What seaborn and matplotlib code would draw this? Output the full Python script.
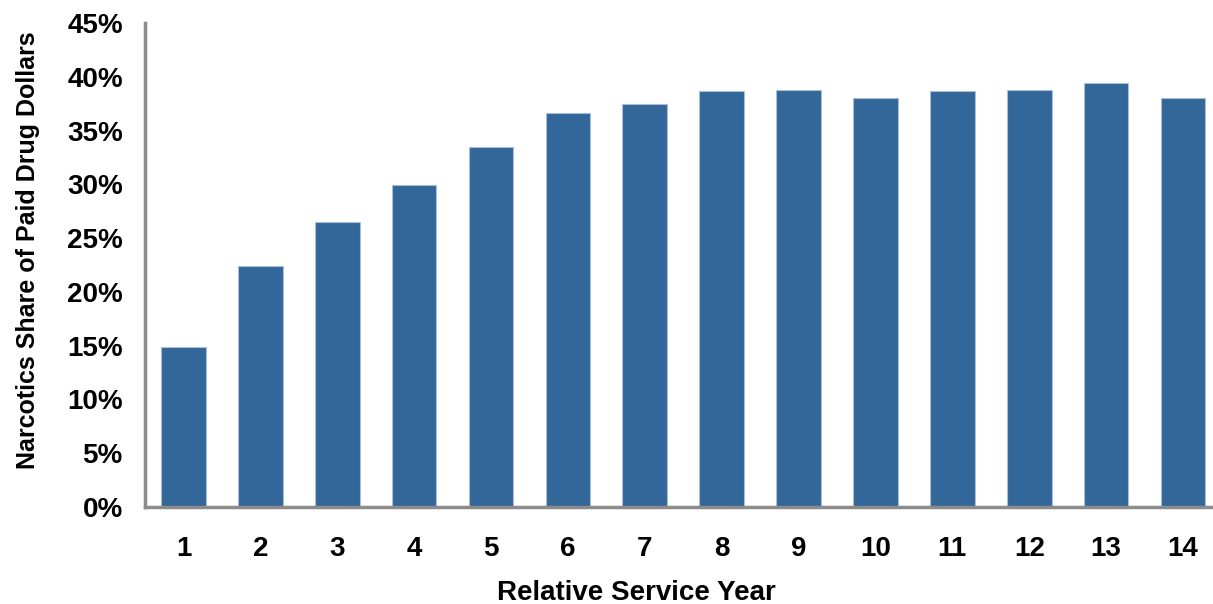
import pandas as pd
import matplotlib.pyplot as plt
import matplotlib.ticker as ticker
import seaborn as sns

sns.set_theme(style='white')
plt.rcParams['font.family'] = ['Liberation Sans', 'DejaVu Sans']
plt.rcParams['font.weight'] = 'bold'

# data
years = [str(i) for i in range(1, 15)]
share = [14.9, 22.4, 26.5, 29.9, 33.5, 36.6, 37.5, 38.7, 38.8, 38.0, 38.7, 38.8, 39.4, 38.0]
yticks = [0, 5, 10, 15, 20, 25, 30, 35, 40, 45]

df = pd.DataFrame({'year': years, 'share': share})

fig = plt.figure(figsize=(12.13, 6.04), dpi=100)
ax = fig.add_axes([145/1213, 97/604, 1 - 145/1213, (507-23)/604])

sns.barplot(data=df, x='year', y='share', color='#336699', saturation=1,
            width=0.58, edgecolor='#a9bfd9', linewidth=0.8, ax=ax)

ax.set_xlim(-0.5, 13.39)
ax.set_ylim(0, 45)
ax.set_yticks(yticks)
ax.yaxis.set_major_formatter(ticker.FuncFormatter(lambda v, p: f'{int(v)}%'))

for side in ['top', 'right']:
    ax.spines[side].set_visible(False)
for side in ['left', 'bottom']:
    ax.spines[side].set_color('#8c8c8c')
    ax.spines[side].set_linewidth(2.5)

ax.tick_params(axis='both', length=0, labelsize=20, colors='black')
ax.tick_params(axis='y', pad=16)
ax.tick_params(axis='x', pad=21)
for lab in ax.get_xticklabels() + ax.get_yticklabels():
    lab.set_fontweight('bold')

ax.set_xlabel('Relative Service Year', fontsize=20, fontweight='bold', color='black')
ax.set_ylabel('Narcotics Share of Paid Drug Dollars', fontsize=18, fontweight='bold', color='black')
ax.xaxis.label.set_va('center')
ax.yaxis.label.set_va('center')
ax.xaxis.set_label_coords(0.46, -0.178)
ax.yaxis.set_label_coords(-0.11, 0.531)

fig.savefig('out.png', dpi=100)
